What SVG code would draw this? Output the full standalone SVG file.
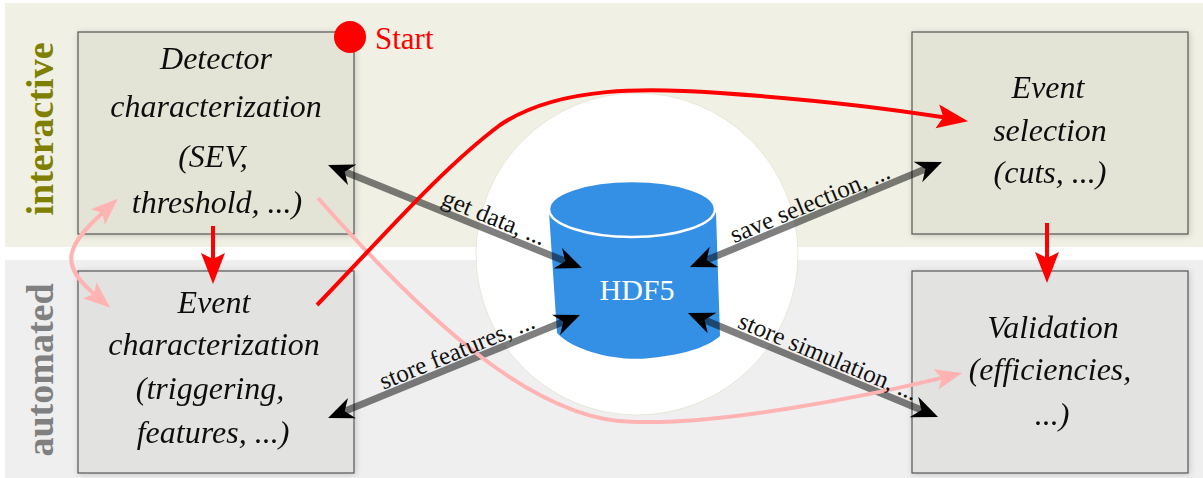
<svg xmlns="http://www.w3.org/2000/svg" width="1203" height="478" viewBox="0 0 1203 478">
<style>
.node{stroke:#555;stroke-width:1.2}
.top{fill:#e4e4d6}
.bot{fill:#e2e2e0}
.nt{font-family:"Liberation Serif","Times New Roman",serif;font-style:italic;font-size:32px;fill:#111;text-anchor:middle}
.lbl{font-family:"Liberation Serif","Times New Roman",serif;font-size:25px;fill:#111;text-anchor:middle}
.band{font-family:"Liberation Serif","Times New Roman",serif;font-weight:bold;font-size:38px;text-anchor:middle}
.gray{fill:none;stroke:#000;stroke-opacity:0.5;stroke-width:7;marker-start:url(#ahg);marker-end:url(#ahg)}
.red{fill:none;stroke:#ff0000;stroke-width:4;marker-end:url(#ahr)}
.pink{fill:none;stroke:#ffb3b3;stroke-width:4}
</style>
<defs>
<marker id="ahg" markerUnits="userSpaceOnUse" markerWidth="28" markerHeight="24" viewBox="0 -12 28 24" refX="8" refY="0" orient="auto-start-reverse"><path d="M0,-11 L26,0 L0,11 L8,0 Z" fill="#000"/></marker>
<marker id="ahr" markerUnits="userSpaceOnUse" markerWidth="32" markerHeight="26" viewBox="0 -13 32 26" refX="6" refY="0" orient="auto"><path d="M0,-12 L31,0 L0,12 L6,0 Z" fill="#ff0000"/></marker>
<marker id="ahp" markerUnits="userSpaceOnUse" markerWidth="30" markerHeight="24" viewBox="0 -12 30 24" refX="6" refY="0" orient="auto-start-reverse"><path d="M0,-10.5 L27,0 L0,10.5 L6,0 Z" fill="#ffb3b3"/></marker>
<filter id="sh" x="-10%" y="-10%" width="120%" height="120%"><feDropShadow dx="1" dy="1" stdDeviation="3" flood-color="#000" flood-opacity="0.18"/></filter>
</defs>

<g id="bands">
<rect x="5" y="3" width="1198" height="244" fill="#f0f0e4"/>
<rect x="5" y="260" width="1198" height="218" fill="#efefef"/>
<text class="band" fill="#808000" transform="translate(53,129) rotate(-90)">interactive</text>
<text class="band" fill="#808080" transform="translate(53,370) rotate(-90)">automated</text>
</g>

<g id="hdf5">
<circle cx="637" cy="254" r="161" fill="#ffffff" stroke="#e4e2d2" stroke-width="0.8"/>
<path d="M549,212 L557,333 C575,352 620,362 650,358 C690,354 710,345 720,336 L716,212 Z" fill="#3490e4"/>
<ellipse cx="632" cy="209" rx="83" ry="28" fill="#3490e4" stroke="#ffffff" stroke-width="2.5"/>
<text x="637" y="300" font-family="'Liberation Serif','Times New Roman',serif" font-size="30" fill="#ffffff" text-anchor="middle">HDF5</text>
</g>

<g id="detector" filter="url(#sh)">
<rect class="node top" x="78" y="32" width="276" height="202"/>
<text class="nt" x="216" y="69">Detector</text>
<text class="nt" x="216" y="117">characterization</text>
<text class="nt" x="213" y="167">(SEV,</text>
<text class="nt" x="217" y="213">threshold, ...)</text>
</g>

<g id="eventchar" filter="url(#sh)">
<rect class="node bot" x="78" y="271" width="276" height="202"/>
<text class="nt" x="214" y="313">Event</text>
<text class="nt" x="214" y="355">characterization</text>
<text class="nt" x="210" y="399">(triggering,</text>
<text class="nt" x="213" y="443">features, ...)</text>
</g>

<g id="eventsel" filter="url(#sh)">
<rect class="node top" x="912" y="32" width="276" height="202"/>
<text class="nt" x="1048" y="98">Event</text>
<text class="nt" x="1050" y="141">selection</text>
<text class="nt" x="1050" y="183">(cuts, ...)</text>
</g>

<g id="validation" filter="url(#sh)">
<rect class="node bot" x="912" y="271" width="276" height="202"/>
<text class="nt" x="1053" y="338">Validation</text>
<text class="nt" x="1050" y="380">(efficiencies,</text>
<text class="nt" x="1052" y="425">...)</text>
</g>

<g id="start">
<circle cx="350" cy="37" r="16" fill="#ff0000"/>
<text x="375" y="49" font-family="'Liberation Serif','Times New Roman',serif" font-size="31" fill="#ff0000">Start</text>
</g>

<g id="connectors">
<path class="gray" d="M344.7,171.8 L565.3,261.2"/>
<path class="gray" d="M706.6,260.1 L925.4,168.9"/>
<path class="gray" d="M563.3,321.8 L344.7,411.2"/>
<path class="gray" d="M704.6,319.9 L921.4,410.1"/>
<path class="pink" d="M318,198 C430,325 540,425 640,422 C720,424 860,398 941.8,377.9" marker-end="url(#ahp)"/>
<path class="pink" d="M102.3,212.9 C65,247 60,265 94.2,294.1" marker-start="url(#ahp)" marker-end="url(#ahp)"/>
<path class="red" d="M213,226 L213,259"/>
<path class="red" d="M1047,223 L1047,258"/>
<path class="red" d="M317,305 C380,240 440,170 500,125 C560,85 650,88 720,93 C820,100 885,108 943.3,117.3"/>
<g id="labels">
<text class="lbl" transform="translate(491,225) rotate(22.1)">get data, ...</text>
<text class="lbl" transform="translate(813,210.5) rotate(-22.6)">save selection, ...</text>
<text class="lbl" transform="translate(460,358.5) rotate(-22.2)">store features, ...</text>
<text class="lbl" transform="translate(825,364) rotate(22.6)">store simulation, ...</text>
</g>
</g>
</svg>
